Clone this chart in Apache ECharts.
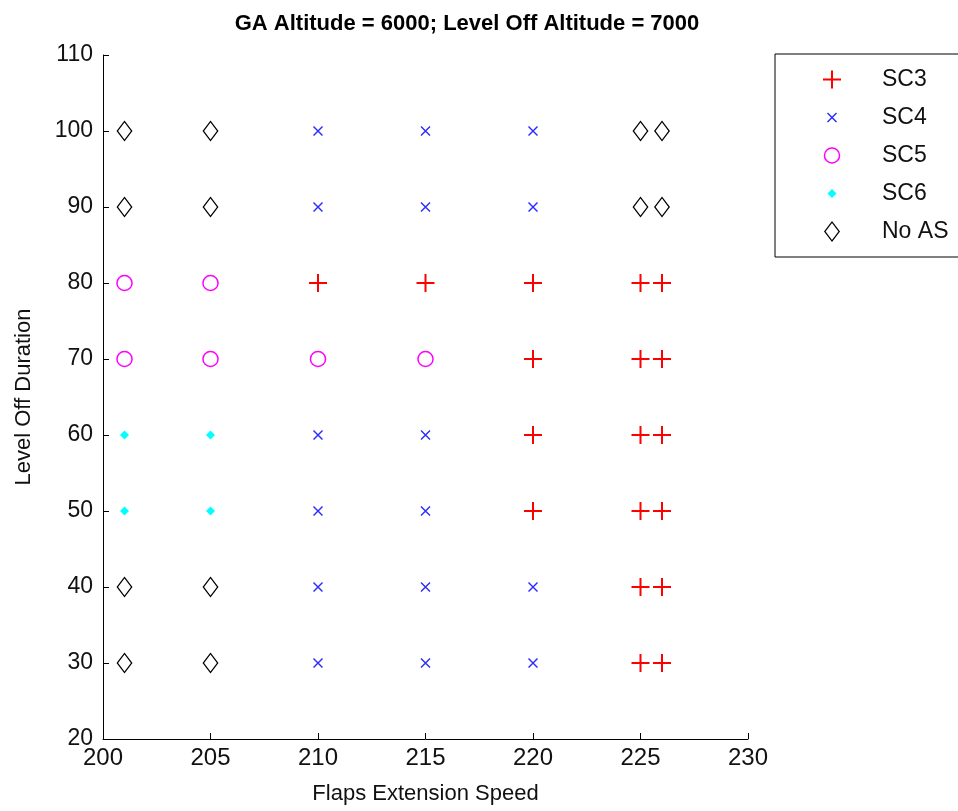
<!DOCTYPE html>
<html>
<head>
<meta charset="utf-8">
<title>GA Altitude = 6000; Level Off Altitude = 7000</title>
<script src="https://cdn.jsdelivr.net/npm/echarts@6/dist/echarts.min.js"></script>
<style>
  html, body { margin: 0; padding: 0; background: #fff; }
  #chart { width: 958px; height: 811px; }
</style>
</head>
<body>
<div id="chart"></div>
<script>
// speeds (x) and level off durations (y) of the test grid
const speeds = [201, 205, 210, 215, 220, 225, 226];
const durations = [100, 90, 80, 70, 60, 50, 40, 30];

// outcome per speed column, read top (100) to bottom (30)
const col201 = ['NoAS', 'NoAS', 'SC5', 'SC5', 'SC6', 'SC6', 'NoAS', 'NoAS'];
const col205 = ['NoAS', 'NoAS', 'SC5', 'SC5', 'SC6', 'SC6', 'NoAS', 'NoAS'];
const col210 = ['SC4', 'SC4', 'SC3', 'SC5', 'SC4', 'SC4', 'SC4', 'SC4'];
const col215 = ['SC4', 'SC4', 'SC3', 'SC5', 'SC4', 'SC4', 'SC4', 'SC4'];
const col220 = ['SC4', 'SC4', 'SC3', 'SC3', 'SC3', 'SC3', 'SC4', 'SC4'];
const col225 = ['NoAS', 'NoAS', 'SC3', 'SC3', 'SC3', 'SC3', 'SC3', 'SC3'];
const col226 = ['NoAS', 'NoAS', 'SC3', 'SC3', 'SC3', 'SC3', 'SC3', 'SC3'];
const columns = [col201, col205, col210, col215, col220, col225, col226];

const classes = ['SC3', 'SC4', 'SC5', 'SC6', 'NoAS'];
const legendNames = ['SC3', 'SC4', 'SC5', 'SC6', 'No AS'];

const FONT = "'Liberation Sans', Arial, sans-serif";

// matlab-like markers, all drawn in the same 22x22 box so the legend keeps sizes
const BOX = 'path://M0,0M22,22';
const markers = {
  SC3: BOX + 'M2,10H20V12H2Z M10,2H12V20H10Z',
  SC4: BOX + 'M7,6L16,15L15,16L6,7Z M15,6L16,7L7,16L6,15Z',
  SC5: BOX + 'M19.3,11A8.3,8.3,0,1,1,2.7,11A8.3,8.3,0,1,1,19.3,11Z M17.8,11A6.8,6.8,0,1,0,4.2,11A6.8,6.8,0,1,0,17.8,11Z',
  SC6: BOX + 'M11,6.5L15.5,11L11,15.5L6.5,11Z',
  NoAS: BOX + 'M11,0.5L19,11L11,21.5L3,11Z M11,2.5L4.6,11L11,19.5L17.4,11Z'
};
const colors = {
  SC3: '#ff0000',
  SC4: '#2b2bff',
  SC5: '#ff00ff',
  SC6: '#00ffff',
  NoAS: '#000000'
};

function pointsFor(cls) {
  const out = [];
  speeds.forEach((s, i) => {
    columns[i].forEach((c, j) => {
      if (c === cls) out.push([s, durations[j]]);
    });
  });
  return out;
}

const chart = echarts.init(document.getElementById('chart'));

chart.setOption({
  animation: false,
  backgroundColor: '#fff',
  title: {
    text: 'GA Altitude = 6000; Level Off Altitude = 7000',
    left: 462,
    top: 8,
    textAlign: 'center',
    textStyle: { fontFamily: FONT, fontSize: 22, fontWeight: 'bold', color: '#000' }
  },
  legend: {
    orient: 'vertical',
    left: 775,
    top: 54,
    padding: [14, 60, 14, 46],
    itemWidth: 22,
    itemHeight: 22,
    itemGap: 15,
    borderColor: '#000',
    borderWidth: 1,
    selectedMode: false,
    data: classes.map((c, i) => ({ name: legendNames[i] })),
    textStyle: { fontFamily: FONT, fontSize: 23, color: '#111', padding: [0, 0, 0, 34] }
  },
  grid: { left: 103, right: 210, top: 55, bottom: 72, containLabel: false },
  xAxis: {
    type: 'value',
    min: 200,
    max: 230,
    interval: 5,
    name: 'Flaps Extension Speed',
    nameLocation: 'middle',
    nameGap: 44,
    nameTextStyle: { fontFamily: FONT, fontSize: 22, color: '#111' },
    axisLine: { show: true, onZero: false, lineStyle: { color: '#000', width: 1 } },
    axisTick: { show: true, inside: true, length: 6, lineStyle: { color: '#000' } },
    axisLabel: { fontFamily: FONT, fontSize: 24, color: '#111', margin: 7 },
    splitLine: { show: false }
  },
  yAxis: {
    type: 'value',
    min: 20,
    max: 110,
    interval: 10,
    name: 'Level Off Duration',
    nameLocation: 'middle',
    nameGap: 68,
    nameTextStyle: { fontFamily: FONT, fontSize: 22, color: '#111' },
    axisLine: { show: true, onZero: false, lineStyle: { color: '#000', width: 1 } },
    axisTick: { show: true, inside: true, length: 6, lineStyle: { color: '#000' } },
    axisLabel: { fontFamily: FONT, fontSize: 23, color: '#111', margin: 10 },
    splitLine: { show: false }
  },
  series: classes.map((c, i) => ({
    name: legendNames[i],
    type: 'scatter',
    symbol: markers[c],
    symbolSize: 22,
    itemStyle: { color: colors[c], opacity: 1 },
    emphasis: { disabled: true },
    data: pointsFor(c)
  }))
});
</script>
</body>
</html>
